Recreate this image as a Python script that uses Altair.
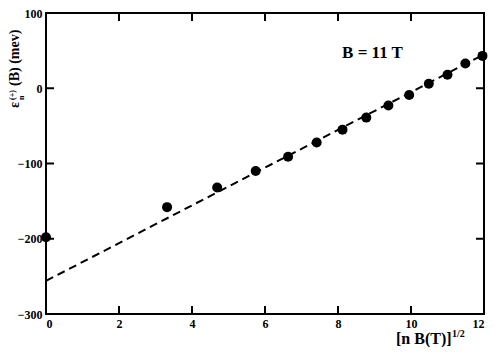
import altair as alt
import pandas as pd

# data
pts_x = [0.0, 3.317, 4.690, 5.745, 6.633, 7.416, 8.124, 8.775, 9.381, 9.950, 10.488, 11.000, 11.489, 11.958]
pts_y = [-198, -158, -132, -110, -91, -72, -55, -39, -23, -9, 6, 18, 33, 43]
fit_x = [0, 12]
fit_y = [-256, 45]
x_ticks = [0, 2, 4, 6, 8, 10, 12]
y_ticks = [-300, -200, -100, 0, 100]

W, H = 438, 301
FONT = "Liberation Serif"
TL = 8  # tick length

xs = alt.Scale(domain=[0, 12], nice=False, zero=False)
ys = alt.Scale(domain=[-300, 100], nice=False, zero=False)

pts = pd.DataFrame({"x": pts_x, "y": pts_y})
fit = pd.DataFrame({"x": fit_x, "y": fit_y})
xt = pd.DataFrame({"v": x_ticks})
yt = pd.DataFrame({"v": y_ticks})
one = pd.DataFrame({"a": [0]})

xaxis = alt.Axis(values=x_ticks, format="d", domain=False, ticks=False, tickSize=0, grid=False,
                 labelFont=FONT, labelFontWeight="bold", labelFontSize=12, labelColor="black",
                 labelPadding=4, title=None)
yaxis = alt.Axis(values=y_ticks, format="d", domain=False, ticks=False, tickSize=0, grid=False,
                 labelFont=FONT, labelFontWeight="bold", labelFontSize=12, labelColor="black",
                 labelPadding=4, title=None)

line = alt.Chart(fit).mark_line(color="black", strokeWidth=2, strokeDash=[8, 5]).encode(
    x=alt.X("x:Q", scale=xs, axis=xaxis),
    y=alt.Y("y:Q", scale=ys, axis=yaxis),
)
dots = alt.Chart(pts).mark_circle(color="black", opacity=1, size=100).encode(
    x=alt.X("x:Q", scale=xs),
    y=alt.Y("y:Q", scale=ys),
)

tick_style = dict(color="black", strokeWidth=2)
tb = alt.Chart(xt).mark_rule(**tick_style).encode(x=alt.X("v:Q", scale=xs), y=alt.value(H), y2=alt.value(H - TL))
tt = alt.Chart(xt).mark_rule(**tick_style).encode(x=alt.X("v:Q", scale=xs), y=alt.value(0), y2=alt.value(TL))
tl = alt.Chart(yt).mark_rule(**tick_style).encode(y=alt.Y("v:Q", scale=ys), x=alt.value(0), x2=alt.value(TL))
tr = alt.Chart(yt).mark_rule(**tick_style).encode(y=alt.Y("v:Q", scale=ys), x=alt.value(W), x2=alt.value(W - TL))


def txt(s, x, y, size, angle=0, align="left"):
    kw = dict(font=FONT, fontWeight="bold", fontSize=size, color="black", align=align,
              baseline="alphabetic")
    if angle:
        kw["angle"] = angle
    return alt.Chart(one).mark_text(**kw).encode(x=alt.value(x), y=alt.value(y), text=alt.value(s))


labels = [
    txt("B = 11 T", 326.5, 45, 17, align="center"),
    txt("[n B(T)]", 350, 331, 16),
    txt("1/2", 406, 324, 10),
    txt("\u03b5", -27, 95, 14, angle=270),
    txt("n", -22.5, 87, 8, angle=270),
    txt("(+)", -31.5, 87, 8, angle=270),
    txt("(B) (mev)", -27, 73, 14, angle=270),
]

chart = alt.layer(line, dots, tb, tt, tl, tr, *labels).properties(
    width=W, height=H,
    autosize=alt.AutoSizeParams(type="none"),
    padding={"left": 38, "top": 5, "right": 6, "bottom": 33},
    background="white",
).configure_view(stroke="black", strokeWidth=2)

chart.save("out.html", embed_options={"renderer": "svg", "actions": False})
